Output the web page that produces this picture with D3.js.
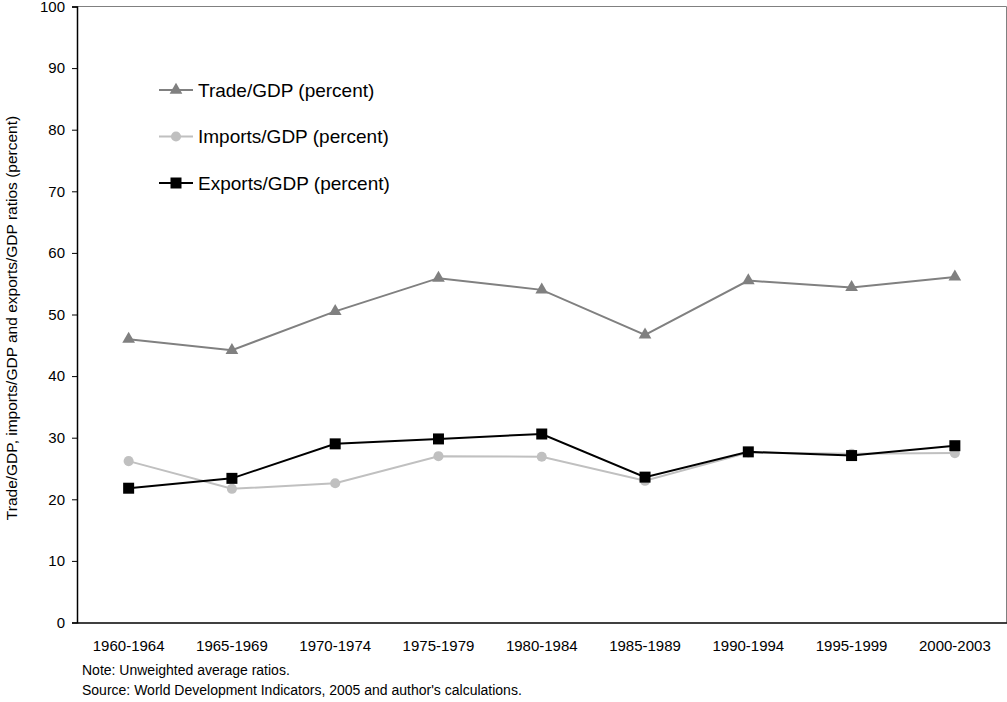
<!DOCTYPE html>
<html>
<head>
<meta charset="utf-8">
<script src="https://cdn.jsdelivr.net/npm/d3@7"></script>
<style>
  body { margin: 0; background: #fff; }
  text { font-family: Arial, "Liberation Sans", sans-serif; fill: #000; }
</style>
</head>
<body>
<svg width="1007" height="702"></svg>
<script>
var periods = ['1960-1964', '1965-1969', '1970-1974', '1975-1979', '1980-1984',
    '1985-1989', '1990-1994', '1995-1999', '2000-2003'];
var trade = [46.0, 44.2, 50.5, 55.9, 54.0, 46.7, 55.5, 54.4, 56.1];
var imports = [26.2, 21.7, 22.6, 27.0, 26.9, 23.0, 27.6, 27.4, 27.5];
var exports = [21.8, 23.4, 29.0, 29.8, 30.6, 23.6, 27.7, 27.1, 28.7];
var yTicks = [0, 10, 20, 30, 40, 50, 60, 70, 80, 90, 100];
var seriesNames = ['Trade/GDP (percent)', 'Imports/GDP (percent)', 'Exports/GDP (percent)'];

var svg = d3.select('svg');
var margin = {top: 6.5, right: 0.5, bottom: 79.5, left: 77};
var width = +svg.attr('width') - margin.left - margin.right;
var height = +svg.attr('height') - margin.top - margin.bottom;

var g = svg.append('g')
    .attr('transform', 'translate(' + margin.left + ',' + margin.top + ')');

var x = d3.scaleBand()
    .domain(periods)
    .range([0, width]);

var y = d3.scaleLinear()
    .domain([0, 100])
    .range([height, 0]);

// frame: top and right are grey
g.append('line')
    .attr('x1', 0).attr('x2', width)
    .attr('y1', 0).attr('y2', 0)
    .attr('stroke', '#808080').attr('stroke-width', 1);
g.append('line')
    .attr('x1', width).attr('x2', width)
    .attr('y1', 0).attr('y2', height)
    .attr('stroke', '#808080').attr('stroke-width', 1);

var yAxis = g.append('g')
    .call(d3.axisLeft(y).tickValues(yTicks).tickSize(5).tickPadding(7));
yAxis.selectAll('text').style('font-size', '15px');
yAxis.select('.domain').attr('stroke-width', 1.5);

var xAxis = g.append('g')
    .attr('transform', 'translate(0,' + height + ')')
    .call(d3.axisBottom(x).tickSize(0).tickPadding(18));
xAxis.selectAll('text').style('font-size', '15px');
xAxis.select('.domain').attr('stroke-width', 1.5);

var series = [
    {name: seriesNames[0], values: trade, color: '#808080', symbol: d3.symbolTriangle, size: 70},
    {name: seriesNames[1], values: imports, color: '#c0c0c0', symbol: d3.symbolCircle, size: 80},
    {name: seriesNames[2], values: exports, color: '#000000', symbol: d3.symbolSquare, size: 121}
];

var line = d3.line()
    .x((d, i) => x(periods[i]) + x.bandwidth() / 2)
    .y(d => y(d));

series.forEach(s => {
    g.append('path')
        .datum(s.values)
        .attr('d', line)
        .attr('fill', 'none')
        .attr('stroke', s.color)
        .attr('stroke-width', 2);

    g.selectAll(null)
        .data(s.values)
        .enter()
        .append('path')
        .attr('d', d3.symbol().type(s.symbol).size(s.size))
        .attr('transform', (d, i) => 'translate(' + (x(periods[i]) + x.bandwidth() / 2) + ',' + y(d) + ')')
        .attr('fill', s.color);
});

// legend
var legend = svg.append('g');
series.forEach((s, i) => {
    var ly = 90 + i * 46.5;
    legend.append('line')
        .attr('x1', 159).attr('x2', 193)
        .attr('y1', ly).attr('y2', ly)
        .attr('stroke', s.color).attr('stroke-width', 2);
    legend.append('path')
        .attr('d', d3.symbol().type(s.symbol).size(s.size))
        .attr('transform', 'translate(176,' + ly + ')')
        .attr('fill', s.color);
    legend.append('text')
        .attr('x', 198).attr('y', ly)
        .attr('dy', '0.35em')
        .style('font-size', '19px')
        .text(s.name);
});

// y axis title
svg.append('text')
    .attr('transform', 'translate(17,318) rotate(-90)')
    .attr('text-anchor', 'middle')
    .style('font-size', '15.5px')
    .text('Trade/GDP, imports/GDP and exports/GDP ratios (percent)');

// notes
svg.append('text')
    .attr('x', 82).attr('y', 675)
    .style('font-size', '14px')
    .text('Note: Unweighted average ratios.');
svg.append('text')
    .attr('x', 82).attr('y', 695)
    .style('font-size', '14px')
    .text("Source: World Development Indicators, 2005 and author's calculations.");
</script>
</body>
</html>
